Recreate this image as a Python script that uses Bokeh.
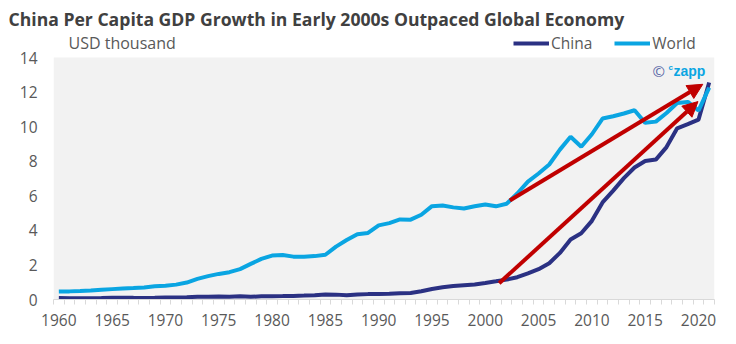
from bokeh.plotting import figure
from bokeh.models import (Range1d, FixedTicker, Label, Legend, LegendItem, Arrow,
                          NormalHead, BoxAnnotation, Title)
from bokeh.embed import file_html
from bokeh.resources import INLINE

years = list(range(1960, 2022))
china = [0.09, 0.076, 0.070, 0.074, 0.085, 0.098, 0.104, 0.097, 0.091, 0.100,
         0.113, 0.119, 0.132, 0.157, 0.160, 0.178, 0.165, 0.185, 0.156, 0.183,
         0.195, 0.197, 0.203, 0.225, 0.251, 0.294, 0.282, 0.252, 0.284, 0.311,
         0.318, 0.333, 0.366, 0.377, 0.473, 0.610, 0.709, 0.782, 0.829, 0.873,
         0.959, 1.053, 1.149, 1.289, 1.509, 1.753, 2.099, 2.694, 3.468, 3.832,
         4.550, 5.614, 6.301, 7.020, 7.636, 8.016, 8.094, 8.817, 9.905, 10.144,
         10.409, 12.556]
world = [0.46, 0.47, 0.49, 0.52, 0.56, 0.60, 0.64, 0.66, 0.70, 0.76,
         0.80, 0.86, 0.98, 1.19, 1.35, 1.48, 1.58, 1.76, 2.06, 2.35,
         2.54, 2.57, 2.48, 2.47, 2.51, 2.59, 3.06, 3.44, 3.78, 3.85,
         4.29, 4.42, 4.63, 4.62, 4.90, 5.40, 5.44, 5.33, 5.26, 5.39,
         5.50, 5.39, 5.54, 6.13, 6.82, 7.29, 7.81, 8.67, 9.42, 8.84,
         9.56, 10.47, 10.60, 10.76, 10.95, 10.22, 10.29, 10.79, 11.37, 11.43,
         10.93, 12.26]
x_tick_years = list(range(1960, 2021, 5))
y_ticks = [0, 2, 4, 6, 8, 10, 12, 14]
arrow_start_x = [2002.3, 2001.3]
arrow_start_y = [5.73, 0.94]
arrow_end_x = [2020.4, 2019.95]
arrow_end_y = [12.45, 11.45]

CHINA_C = "#2b3183"
WORLD_C = "#0aa5e2"
RED = "#c00000"
GRAY = "#595959"
FONT = "Open Sans"

p = figure(width=736, height=344, output_backend="svg", toolbar_location=None,
           x_range=Range1d(1959.5, 2021.5), y_range=Range1d(0, 15.562),
           min_border_left=53, min_border_right=22, min_border_top=30,
           min_border_bottom=45)
p.background_fill_color = "white"
p.border_fill_color = "white"
p.outline_line_color = None

p.add_layout(BoxAnnotation(bottom=0, top=14, fill_color="#f2f2f2", fill_alpha=1,
                           line_color=None, level="underlay"))

rc = p.line(years, china, line_color=CHINA_C, line_width=4)
rw = p.line(years, world, line_color=WORLD_C, line_width=4)

for sx, sy, ex, ey in zip(arrow_start_x, arrow_start_y, arrow_end_x, arrow_end_y):
    p.add_layout(Arrow(x_start=sx, y_start=sy, x_end=ex, y_end=ey,
                       line_color=RED, line_width=4,
                       end=NormalHead(size=15, fill_color=RED, line_color=RED)))

xa = p.xaxis[0]
xa.ticker = FixedTicker(ticks=x_tick_years,
                        minor_ticks=[y + 0.5 for y in range(1959, 2022)])
xa.axis_line_color = "#d9d9d9"
xa.major_tick_line_color = None
xa.major_tick_out = 0
xa.major_tick_in = 0
xa.minor_tick_line_color = "#d9d9d9"
xa.minor_tick_out = 5
xa.minor_tick_in = 0
xa.major_label_standoff = 9
xa.major_label_text_font = FONT
xa.major_label_text_font_size = "15.5px"
xa.major_label_text_color = GRAY

ya = p.yaxis[0]
ya.ticker = FixedTicker(ticks=y_ticks)
ya.axis_line_color = None
ya.major_tick_line_color = None
ya.minor_tick_line_color = None
ya.major_tick_out = 0
ya.major_label_standoff = 16
ya.major_label_text_font = FONT
ya.major_label_text_font_size = "15.5px"
ya.major_label_text_color = GRAY

p.xgrid.grid_line_color = None
p.ygrid.grid_line_color = "white"
p.ygrid.grid_line_width = 2
p.ygrid.ticker = FixedTicker(ticks=y_ticks)

p.add_layout(Title(text="China Per Capita GDP Growth in Early 2000s Outpaced Global Economy",
                   align="left", offset=-45, text_font=FONT, text_font_style="bold",
                   text_font_size="17.6px", text_color="#404040", standoff=0), "above")

# screen units are relative to the frame (bottom-left, y up)
p.add_layout(Label(x=15, y=257, x_units="screen", y_units="screen",
                   text="USD thousand", text_font=FONT, text_font_size="16px",
                   text_color=GRAY, text_baseline="middle"))

p.add_layout(Label(x=599, y=229, x_units="screen", y_units="screen",
                   text="©", text_font=FONT, text_font_size="15px",
                   text_color="#5b6aa8", text_baseline="middle"))
p.add_layout(Label(x=615, y=232, x_units="screen", y_units="screen",
                   text="c", text_font="Liberation Sans", text_font_size="8px",
                   text_font_style="bold", text_color=WORLD_C, text_baseline="middle"))
p.add_layout(Label(x=620, y=229, x_units="screen", y_units="screen",
                   text="zapp", text_font="Liberation Sans", text_font_size="14px",
                   text_font_style="bold", text_color=WORLD_C, text_baseline="middle"))

legend = Legend(items=[LegendItem(label="China", renderers=[rc]),
                       LegendItem(label="World", renderers=[rw])],
                orientation="horizontal", location=(460, 245),
                background_fill_alpha=0, border_line_color=None,
                glyph_width=36, label_standoff=2, spacing=22, padding=0, margin=0,
                label_text_font=FONT, label_text_font_size="15.5px",
                label_text_color=GRAY)
p.add_layout(legend, "center")

open("out.html", "w").write(file_html(p, INLINE))
